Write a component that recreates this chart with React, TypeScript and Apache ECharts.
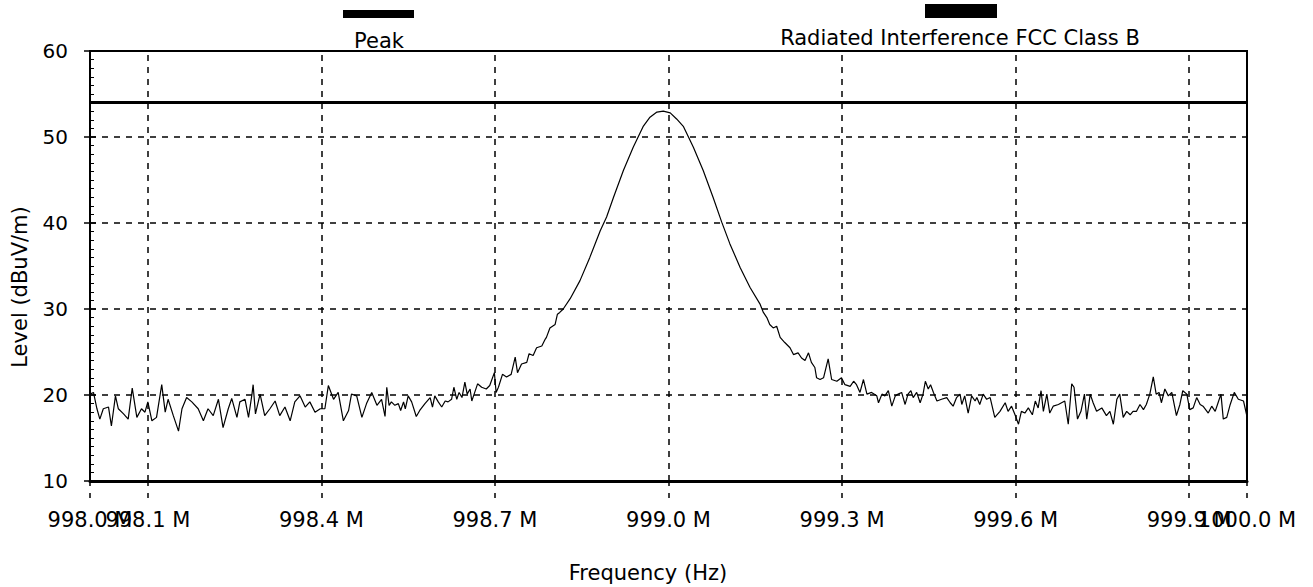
import React, { useEffect, useRef } from "react";
import * as echarts from "echarts";

// ---- Data ----
const seriesNames = ["Peak", "Radiated Interference FCC Class B"];

// tick labels: main set and the two that overlap the ends
const xTickValuesMain = [998.0, 998.4, 998.7, 999.0, 999.3, 999.6, 1000.0];
const xTickValuesExtra = [998.1, 999.9];
const xGridValues = [998.1, 998.4, 998.7, 999.0, 999.3, 999.6, 999.9];

const yMin = 10;
const yMax = 60;
const yStep = 10;

// limit line (FCC Class B)
const limitFreqs = [998.0, 1000.0];
const limitLevels = [54, 54];

// Peak trace, [frequency MHz, level dBuV/m]
const noiseLow: number[][] = [
  [998.000, 20.1], [998.006, 20.3], [998.012, 18.4], [998.017, 17.2], [998.023, 18.4], [998.032, 18.6],
  [998.037, 16.4], [998.044, 19.9], [998.049, 18.4], [998.058, 17.8], [998.066, 17.2], [998.073, 20.8],
  [998.081, 17.4], [998.089, 18.4], [998.095, 18.0], [998.100, 19.2], [998.107, 17.0], [998.115, 17.4],
  [998.124, 21.2], [998.130, 18.0], [998.135, 19.5], [998.144, 17.6], [998.153, 15.8], [998.159, 18.4],
  [998.167, 19.7], [998.176, 19.2], [998.187, 18.4], [998.196, 17.0], [998.204, 18.4], [998.213, 17.6],
  [998.222, 19.5], [998.230, 16.2], [998.239, 18.4], [998.245, 19.6], [998.254, 17.4], [998.259, 19.2],
  [998.268, 19.5], [998.274, 17.4], [998.280, 20.1], [998.282, 21.2], [998.286, 17.8], [998.294, 20.1],
  [998.302, 17.6], [998.311, 18.4], [998.320, 19.3], [998.328, 17.6], [998.337, 18.6], [998.346, 17.0],
  [998.354, 19.2], [998.363, 19.9], [998.372, 18.6], [998.380, 19.2], [998.389, 18.0], [998.398, 18.4],
  [998.406, 18.4], [998.412, 21.1], [998.421, 19.5], [998.429, 20.3], [998.438, 17.0], [998.447, 18.2],
  [998.452, 20.1], [998.461, 19.9], [998.470, 17.4], [998.478, 19.0], [998.487, 20.3], [998.496, 18.8],
  [998.504, 19.5], [998.510, 17.5], [998.513, 20.9], [998.517, 18.8], [998.521, 19.2], [998.527, 18.8],
  [998.533, 19.0], [998.537, 18.2], [998.542, 19.2], [998.545, 18.4], [998.550, 19.9], [998.556, 19.2],
  [998.564, 17.5], [998.570, 18.2], [998.579, 19.0], [998.588, 19.7], [998.592, 18.6], [998.596, 19.9],
  [998.602, 19.2], [998.608, 18.6], [998.614, 19.3], [998.619, 19.2], [998.625, 19.5], [998.629, 20.9],
  [998.634, 19.5], [998.638, 20.3], [998.643, 19.7], [998.648, 21.5], [998.652, 20.1], [998.657, 20.7],
  [998.660, 19.3], [998.664, 20.1], [998.670, 21.3], [998.677, 20.9], [998.685, 20.7], [998.691, 21.1],
  [998.699, 22.6], [998.702, 20.3], [998.706, 20.9], [998.713, 22.4], [998.720, 22.1], [998.728, 22.4],
  [998.735, 24.4], [998.739, 22.6], [998.746, 23.6], [998.755, 23.8], [998.759, 24.8], [998.766, 24.6],
  [998.772, 25.5], [998.781, 25.7], [998.787, 26.5],
];

const peakSlope: number[][] = [
  [998.789, 26.7], [998.795, 27.8], [998.804, 28.2], [998.808, 29.4], [998.812, 29.6], [998.818, 30.0],
  [998.830, 31.2], [998.847, 33.3], [998.864, 36.0], [998.882, 39.1], [998.893, 40.7], [998.905, 43.0],
  [998.922, 46.1], [998.939, 48.8], [998.956, 51.2], [998.968, 52.3], [998.980, 52.9], [998.991, 53.0],
  [999.003, 52.8], [999.014, 52.1], [999.026, 51.2], [999.043, 48.8], [999.060, 46.1], [999.077, 43.0],
  [999.092, 40.1], [999.106, 37.6], [999.124, 34.8], [999.141, 32.5], [999.158, 30.6], [999.164, 29.6],
  [999.170, 29.0], [999.175, 28.2], [999.181, 27.8], [999.187, 28.0], [999.193, 26.7], [999.201, 26.1],
  [999.210, 25.5], [999.216, 24.7], [999.224, 24.9], [999.230, 24.3], [999.236, 24.0], [999.242, 24.9],
  [999.247, 23.8], [999.253, 23.2], [999.256, 22.0], [999.262, 21.8], [999.268, 22.0], [999.276, 24.2],
  [999.282, 21.8], [999.291, 21.6], [999.299, 22.0], [999.305, 21.2], [999.314, 21.0], [999.320, 21.6],
  [999.325, 21.2],
];

const noiseHigh: number[][] = [
  [999.331, 20.3], [999.337, 21.8], [999.343, 20.1], [999.351, 20.3], [999.360, 19.9], [999.363, 19.1],
  [999.369, 20.1], [999.374, 19.9], [999.380, 20.5], [999.386, 18.7], [999.392, 19.9], [999.397, 20.1],
  [999.403, 20.3], [999.409, 18.9], [999.414, 20.1], [999.419, 20.5], [999.423, 19.7], [999.429, 20.3],
  [999.435, 19.1], [999.440, 20.1], [999.444, 21.6], [999.449, 20.7], [999.453, 21.2], [999.458, 20.3],
  [999.464, 19.3], [999.472, 19.5], [999.481, 19.7], [999.487, 19.1], [999.492, 18.7], [999.498, 19.7],
  [999.504, 20.1], [999.507, 18.9], [999.512, 19.9], [999.518, 17.9], [999.524, 19.9], [999.530, 19.3],
  [999.533, 19.7], [999.538, 18.9], [999.544, 20.1], [999.550, 19.5], [999.556, 19.7], [999.564, 17.4],
  [999.573, 18.1], [999.582, 19.1], [999.587, 18.1], [999.593, 18.7], [999.599, 17.7], [999.605, 16.6],
  [999.610, 18.1], [999.616, 17.9], [999.622, 18.5], [999.629, 17.7], [999.634, 19.3], [999.639, 18.5],
  [999.644, 20.5], [999.648, 18.1], [999.654, 20.1], [999.659, 17.9], [999.665, 18.7], [999.674, 18.9],
  [999.685, 19.3], [999.691, 16.6], [999.697, 21.3], [999.701, 20.9], [999.707, 17.2], [999.713, 18.1],
  [999.719, 20.1], [999.723, 17.2], [999.729, 20.1], [999.734, 19.1], [999.740, 18.1], [999.749, 18.5],
  [999.757, 17.6], [999.763, 18.1], [999.769, 16.6], [999.775, 19.5], [999.780, 20.1], [999.786, 17.4],
  [999.792, 18.1], [999.798, 17.7], [999.803, 18.1], [999.809, 18.1], [999.815, 18.9], [999.821, 18.3],
  [999.826, 18.9], [999.832, 20.1], [999.838, 22.1], [999.843, 20.1], [999.848, 20.3], [999.852, 19.1],
  [999.858, 20.7], [999.864, 19.9], [999.870, 20.3], [999.878, 17.6], [999.884, 18.9], [999.889, 20.5],
  [999.896, 20.1], [999.901, 18.3], [999.907, 18.5], [999.913, 19.7], [999.919, 18.9], [999.924, 18.7],
  [999.933, 17.9], [999.939, 18.7], [999.945, 18.1], [999.950, 19.1], [999.955, 20.1], [999.959, 17.2],
  [999.965, 17.4], [999.971, 18.9], [999.978, 20.3], [999.985, 19.5], [999.994, 19.3], [1000.0, 17.5],
];

const xAxisTitle = "Frequency (Hz)";
const yAxisTitle = "Level (dBuV/m)";

const FONT = '"DejaVu Sans", Verdana, sans-serif';

function makeXAxis(values: number[], showLine: boolean) {
  return {
    type: "value",
    position: "bottom",
    min: 998.0,
    max: 1000.0,
    axisLine: { show: showLine, onZero: false, lineStyle: { color: "#000", width: 3 } },
    axisTick: {
      show: true,
      customValues: values,
      length: 20,
      lineStyle: { color: "#000", width: 1.5, type: [5, 7] },
    },
    axisLabel: {
      customValues: values,
      showMinLabel: true,
      showMaxLabel: true,
      hideOverlap: false,
      formatter: (v: number) => v.toFixed(1) + " M",
      color: "#000",
      fontSize: 21,
      fontFamily: FONT,
      margin: 28,
    },
    splitLine: { show: false },
  };
}

export default function App() {
  const ref = useRef<HTMLDivElement>(null);

  useEffect(() => {
    if (!ref.current) return;
    const chart = echarts.init(ref.current, undefined, { renderer: "svg" });
    const trace = [...noiseLow, ...peakSlope, ...noiseHigh];
    const limit = limitFreqs.map((f, i) => [f, limitLevels[i]]);

    const option: any = {
      animation: false,
      backgroundColor: "#ffffff",
      textStyle: { fontFamily: FONT, color: "#000" },
      grid: {
        left: 90,
        right: 66,
        top: 51,
        bottom: 106,
        show: true,
        borderColor: "#000",
        borderWidth: 2,
        backgroundColor: "transparent",
      },
      xAxis: [makeXAxis(xTickValuesMain, true), makeXAxis(xTickValuesExtra, false)],
      yAxis: [
        {
          type: "value",
          position: "left",
          min: yMin,
          max: yMax,
          interval: yStep,
          axisLine: { show: true, lineStyle: { color: "#000", width: 2 } },
          axisTick: { show: true, length: 6, lineStyle: { color: "#000", width: 1.5 } },
          axisLabel: { color: "#000", fontSize: 20, fontFamily: FONT, margin: 22 },
          splitLine: { show: true, lineStyle: { color: "#000", type: [6, 6], width: 1.5 } },
        },
        {
          type: "value",
          position: "left",
          min: yMin,
          max: yMax,
          interval: yStep,
          axisLine: { show: false },
          axisLabel: { show: false },
          splitLine: { show: false },
          axisTick: { show: true, inside: true, length: 6, lineStyle: { color: "#000", width: 1.5 } },
          minorTick: { show: true, splitNumber: 10, length: 4, lineStyle: { color: "#000", width: 1 } },
        },
      ],
      series: [
        {
          name: seriesNames[0],
          type: "line",
          xAxisIndex: 0,
          yAxisIndex: 0,
          data: trace,
          symbol: "none",
          showSymbol: false,
          lineStyle: { color: "#000", width: 1.2 },
          markLine: {
            silent: true,
            symbol: "none",
            label: { show: false },
            lineStyle: { color: "#000", type: [6, 6], width: 1.5 },
            data: xGridValues.map((f) => ({ xAxis: f })),
          },
        },
        {
          name: seriesNames[1],
          type: "line",
          xAxisIndex: 0,
          yAxisIndex: 0,
          data: limit,
          symbol: "none",
          showSymbol: false,
          lineStyle: { color: "#000", width: 3 },
        },
      ],
      graphic: [
        { type: "rect", shape: { x: 343, y: 10, width: 71, height: 8 }, style: { fill: "#000" } },
        {
          type: "text",
          x: 379,
          y: 41,
          style: { text: seriesNames[0], font: `21px ${FONT}`, fill: "#000", textAlign: "center", textVerticalAlign: "middle" },
        },
        { type: "rect", shape: { x: 925, y: 4, width: 72, height: 14 }, style: { fill: "#000" } },
        {
          type: "text",
          x: 960,
          y: 38,
          style: { text: seriesNames[1], font: `21px ${FONT}`, fill: "#000", textAlign: "center", textVerticalAlign: "middle" },
        },
        {
          type: "text",
          x: 648,
          y: 573,
          style: { text: xAxisTitle, font: `21px ${FONT}`, fill: "#000", textAlign: "center", textVerticalAlign: "middle" },
        },
        {
          type: "text",
          x: 20,
          y: 287,
          rotation: Math.PI / 2,
          style: { text: yAxisTitle, font: `21px ${FONT}`, fill: "#000", textAlign: "center", textVerticalAlign: "middle" },
        },
      ],
    };

    chart.setOption(option);
    return () => chart.dispose();
  }, []);

  return (
    <div
      ref={ref}
      style={{ position: "absolute", left: 0, top: 0, width: 1313, height: 587, background: "#fff" }}
    />
  );
}
